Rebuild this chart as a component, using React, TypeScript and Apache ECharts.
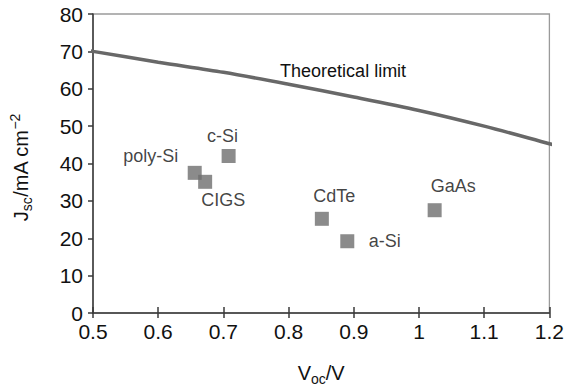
import React, { useEffect, useRef } from "react";
import * as echarts from "echarts";

// Theoretical limit curve (Voc, Jsc)
const limitVoc = [0.49, 0.5, 0.6, 0.7, 0.8, 0.9, 1.0, 1.1, 1.2, 1.215];
const limitJsc = [70.3, 70, 67.1, 64.4, 61.2, 57.8, 54.2, 50.0, 45.3, 44.6];

// Cell technologies
const cellNames = ["poly-Si", "CIGS", "c-Si", "CdTe", "a-Si", "GaAs"];
const cellVoc = [0.656, 0.672, 0.708, 0.851, 0.89, 1.024];
const cellJsc = [37.5, 35.1, 42.0, 25.2, 19.2, 27.5];

// Layout only: label offsets in pixels
const labelOffsets: [number, number][] = [
  [-44, -16.5],
  [18, 18.5],
  [-6, -20.5],
  [12.5, -22.5],
  [37.5, 0],
  [18.5, -24],
];

const FONT = "'Liberation Sans', Arial, Helvetica, sans-serif";
const TEXT = "#111111";

export default function App() {
  const ref = useRef<HTMLDivElement>(null);
  useEffect(() => {
    if (!ref.current) return;
    const chart = echarts.init(ref.current, undefined, { renderer: "svg" });
    const lineData = limitVoc.map((v, i) => {
      const item: any = { value: [v, limitJsc[i]] };
      if (v === 0.8) {
        item.label = {
          show: true,
          formatter: "Theoretical limit",
          position: "inside",
          offset: [54.5, -13],
          fontSize: 18,
          fontFamily: FONT,
          color: TEXT,
        };
      }
      return item;
    });
    const scatterData = cellNames.map((n, i) => ({
      name: n,
      value: [cellVoc[i], cellJsc[i]],
      label: {
        show: true,
        formatter: n,
        position: "inside",
        offset: labelOffsets[i],
        fontSize: 18,
        fontFamily: FONT,
        color: TEXT,
      },
    }));
    chart.setOption({
      animation: false,
      backgroundColor: "#ffffff",
      grid: {
        left: 88,
        right: 14,
        top: 14,
        bottom: 73.7,
        show: true,
        borderColor: "#9a9a9a",
        borderWidth: 1.3,
        backgroundColor: "transparent",
      },
      xAxis: [
        {
          type: "value",
          min: 0.5,
          max: 1.2,
          interval: 0.1,
          splitLine: { show: false },
          axisLine: { show: true, onZero: false, lineStyle: { color: "#3a3a3a", width: 1.5 } },
          axisTick: { show: true, inside: false, length: 5, lineStyle: { color: "#3a3a3a", width: 1.5 } },
          axisLabel: { fontSize: 21, fontFamily: FONT, color: TEXT, margin: 8 },
          name: "{m|V}{sub|oc}{m|/V}",
          nameLocation: "middle",
          nameGap: 47,
          nameTextStyle: {
            rich: {
              m: { fontSize: 20, fontFamily: FONT, color: TEXT, lineHeight: 26, verticalAlign: "middle" },
              sub: { fontSize: 14, fontFamily: FONT, color: TEXT, lineHeight: 14, verticalAlign: "bottom" },
            },
          },
        },
        {
          type: "value",
          min: 0.5,
          max: 1.2,
          interval: 0.1,
          position: "bottom",
          splitLine: { show: false },
          axisLine: { show: false },
          axisTick: { show: true, inside: true, length: 6, lineStyle: { color: "#3a3a3a", width: 1.5 } },
          axisLabel: { show: false },
        },
      ],
      yAxis: {
        type: "value",
        min: 0,
        max: 80,
        interval: 10,
        splitLine: { show: false },
        axisLine: { show: true, onZero: false, lineStyle: { color: "#3a3a3a", width: 1.5 } },
        axisTick: { show: true, inside: false, length: 5, lineStyle: { color: "#3a3a3a", width: 1.5 } },
        axisLabel: { fontSize: 21, fontFamily: FONT, color: TEXT, margin: 10 },
        name: "{m|J}{sub|sc}{m|/mA cm}{sup|−2}",
        nameLocation: "middle",
        nameGap: 59,
        nameTextStyle: {
          padding: [0, 8, 0, 0],
          rich: {
            m: { fontSize: 20, fontFamily: FONT, color: TEXT, lineHeight: 26, verticalAlign: "middle" },
            sub: { fontSize: 14, fontFamily: FONT, color: TEXT, lineHeight: 14, verticalAlign: "bottom" },
            sup: { fontSize: 14, fontFamily: FONT, color: TEXT, lineHeight: 14, verticalAlign: "top" },
          },
        },
      },
      series: [
        {
          type: "line",
          data: lineData,
          smooth: 0.3,
          clip: false,
          showSymbol: true,
          symbol: "circle",
          symbolSize: 0,
          lineStyle: { color: "#686868", width: 3.5 },
          itemStyle: { color: "#686868" },
          z: 3,
        },
        {
          type: "scatter",
          data: scatterData,
          symbol: "rect",
          symbolSize: 14,
          itemStyle: { color: "#6e6e6e" },
          z: 4,
        },
      ],
    });
    return () => chart.dispose();
  }, []);
  return (
    <div
      ref={ref}
      style={{ position: "absolute", left: 0, top: 0, width: 567, height: 391 }}
    />
  );
}
